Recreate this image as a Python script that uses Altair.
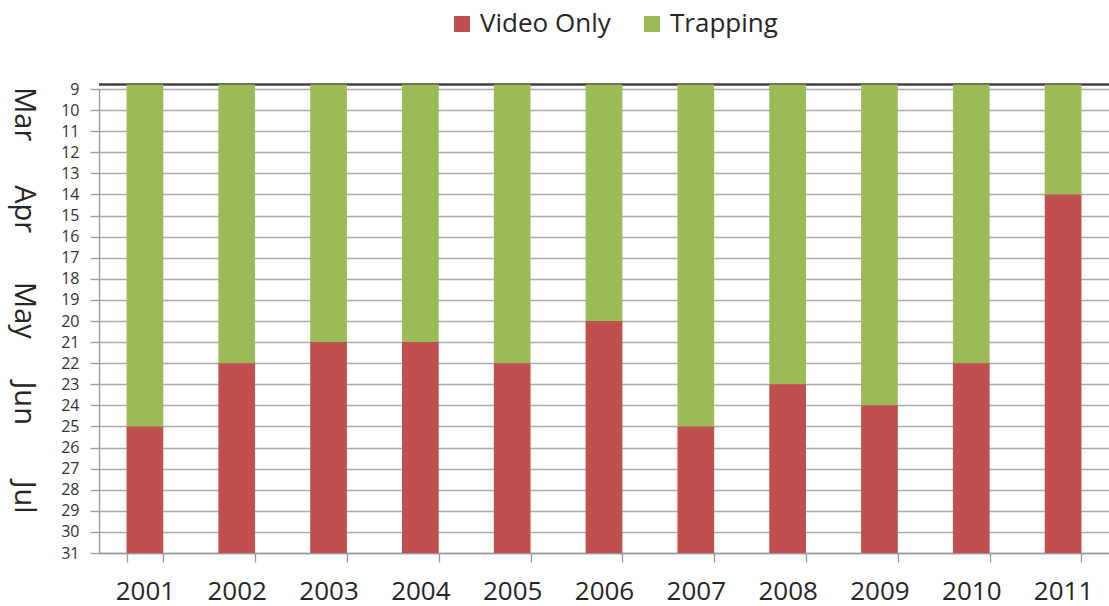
import altair as alt
import pandas as pd

years = ["2001", "2002", "2003", "2004", "2005", "2006", "2007", "2008", "2009", "2010", "2011"]
video_start = [25, 22, 21, 21, 22, 20, 25, 23, 24, 22, 14]
season_start = 9
season_end = 31
series = ["Video Only", "Trapping"]
colors = ["#C0504D", "#9BBB59"]
y_ticks = list(range(9, 32))
month_names = ["Mar", "Apr", "May", "Jun", "Jul"]
month_pos = [10.2, 14.7, 19.5, 23.9, 28.35]

green = pd.DataFrame({"year": years, "series": "Trapping",
                      "from": [season_start] * len(years), "to": video_start})
red = pd.DataFrame({"year": years, "series": "Video Only",
                    "from": video_start, "to": [season_end] * len(years)})
top_rule = pd.DataFrame({"from": [season_start]})
months = pd.DataFrame({"from": month_pos, "name": month_names})

FONT = "Open Sans"

yscale = alt.Scale(domain=[season_start, season_end], reverse=True, nice=False, zero=False)
yaxis = alt.Axis(values=y_ticks, grid=True, gridColor="#ABABAB", gridWidth=1.3,
                 domainColor="#9A9A9A", domainWidth=1.3, tickColor="#9A9A9A", tickWidth=1.3,
                 tickSize=9, labelPadding=11, labelFontSize=16, labelFont=FONT,
                 labelColor="#333333", title=None)
xscale = alt.Scale(paddingInner=0.6, paddingOuter=0.3)
xaxis = alt.Axis(labelAngle=0, tickBand="extent", tickSize=9, tickColor="#9A9A9A", tickWidth=1.3,
                 domainColor="#9A9A9A", domainWidth=1.3, labelFontSize=26, labelFont=FONT,
                 labelColor="#262626", labelPadding=16, grid=False, title=None)
color = alt.Color("series:N", scale=alt.Scale(domain=series, range=colors),
                  legend=alt.Legend(orient="none", legendX=350, legendY=-78, direction="horizontal",
                                    symbolType="square", symbolSize=256, symbolStrokeWidth=0,
                                    labelFontSize=26, labelFont=FONT, labelColor="#262626",
                                    labelOffset=5, columnPadding=28, title=None, padding=0))

rule = alt.Chart(top_rule).mark_rule(color="#404040", strokeWidth=2.5, yOffset=-4.5).encode(
    y=alt.Y("from:Q", scale=yscale, axis=yaxis, title=None))

green_bars = alt.Chart(green).mark_bar(yOffset=-4.5).encode(
    x=alt.X("year:N", sort=years, scale=xscale, axis=xaxis, title=None),
    y=alt.Y("from:Q", scale=yscale, axis=yaxis, title=None),
    y2="to:Q",
    color=color)

red_bars = alt.Chart(red).mark_bar().encode(
    x=alt.X("year:N", sort=years, scale=xscale, axis=xaxis, title=None),
    y=alt.Y("from:Q", scale=yscale, axis=yaxis, title=None),
    y2="to:Q",
    color=color)

month_text = alt.Chart(months).mark_text(angle=90, fontSize=29, font=FONT, color="#262626",
                                          align="center", baseline="middle").encode(
    y=alt.Y("from:Q", scale=yscale, axis=yaxis, title=None),
    x=alt.value(-75),
    text="name:N")

chart = alt.layer(rule, green_bars, red_bars, month_text).properties(
    width=1010, height=464,
    autosize=alt.AutoSizeParams(type="none"),
    padding={"left": 99, "top": 89, "right": 0, "bottom": 53},
    background="white",
).configure_view(stroke=None)

chart.save("out.html", embed_options={"renderer": "svg", "actions": False})
